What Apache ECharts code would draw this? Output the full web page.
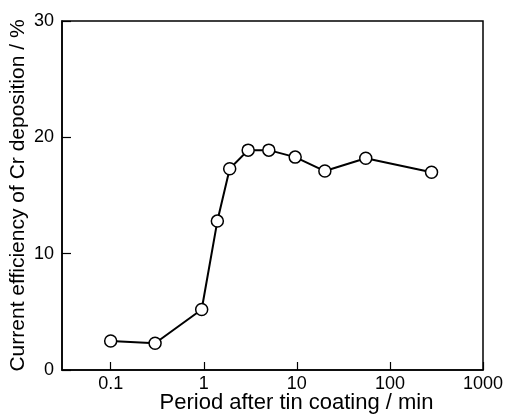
<!DOCTYPE html>
<html>
<head>
<meta charset="utf-8">
<script src="https://cdn.jsdelivr.net/npm/echarts@6/dist/echarts.min.js"></script>
<style>
  html, body { margin: 0; padding: 0; background: #fff; }
  #container { width: 509px; height: 415px; }
</style>
</head>
<body>
<div id="container"></div>
<script>
// period after tin coating (min) and current efficiency (%)
var periods = [0.1, 0.3, 0.95, 1.4, 1.9, 3, 5, 9.6, 20, 55, 280];
var efficiency = [2.5, 2.3, 5.2, 12.8, 17.3, 18.9, 18.9, 18.3, 17.1, 18.2, 17.0];
var xTicks = [0.1, 1, 10, 100, 1000];
var yTicks = [0, 10, 20, 30];

var font = 'Liberation Sans';

var points = [];
for (var i = 0; i < periods.length; i++) {
    points.push([periods[i], efficiency[i]]);
}

var dom = document.getElementById('container');
var myChart = echarts.init(dom);

var option = {
    animation: false,
    backgroundColor: '#fff',
    grid: {
        left: 62, right: 26, top: 21, bottom: 45,
        outerBoundsMode: 'none',
        containLabel: false,
        show: true,
        borderColor: '#000',
        borderWidth: 1.5
    },
    xAxis: {
        type: 'log',
        logBase: 10,
        min: 0.03,
        max: 1000,
        name: 'Period after tin coating / min',
        nameLocation: 'middle',
        nameGap: 22,
        nameMoveOverlap: false,
        nameTextStyle: { color: '#000', fontFamily: font, fontSize: 22, padding: [0, 0, 0, 48] },
        axisLine: { lineStyle: { color: '#000', width: 1.5 } },
        axisTick: { inside: true, length: 8, lineStyle: { color: '#000', width: 1.2 } },
        minorTick: { show: false },
        splitLine: { show: false },
        axisLabel: {
            showMinLabel: false,
            color: '#000', fontFamily: font, fontSize: 18, margin: 5,
            formatter: function (v) {
                for (var k = 0; k < xTicks.length; k++) {
                    if (Math.abs(v - xTicks[k]) / xTicks[k] < 1e-6) return String(xTicks[k]);
                }
                return '';
            }
        }
    },
    yAxis: {
        type: 'value',
        min: yTicks[0],
        max: yTicks[yTicks.length - 1],
        interval: 10,
        name: 'Current efficiency of Cr deposition / %',
        nameLocation: 'middle',
        nameGap: 33,
        nameMoveOverlap: false,
        nameTextStyle: { color: '#000', fontFamily: font, fontSize: 21 },
        axisLine: { show: true, lineStyle: { color: '#000', width: 1.5 } },
        axisTick: { show: true, inside: true, length: 9, lineStyle: { color: '#000', width: 1.2 } },
        splitLine: { show: false },
        axisLabel: { color: '#000', fontFamily: font, fontSize: 18, margin: 8 }
    },
    series: [{
        type: 'line',
        data: points,
        symbol: 'circle',
        symbolSize: 12,
        lineStyle: { color: '#000', width: 2 },
        itemStyle: { color: '#fff', borderColor: '#000', borderWidth: 1.5 }
    }]
};

myChart.setOption(option, true);
</script>
</body>
</html>
